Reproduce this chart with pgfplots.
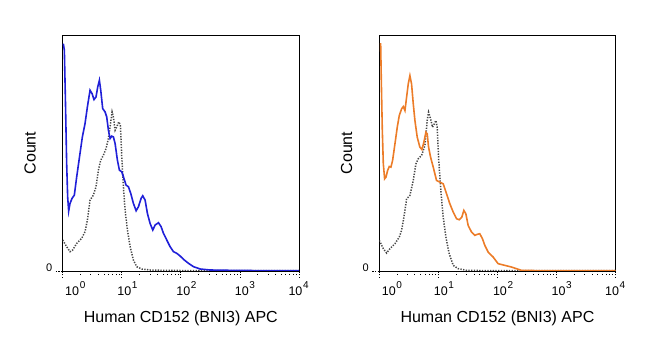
\documentclass[border=0pt]{standalone}
\usepackage{fontspec}
\setmainfont{Liberation Sans}
\usepackage{pgfplots}
\pgfplotsset{compat=1.18}
\definecolor{myblue}{RGB}{32,32,216}
\definecolor{myorange}{RGB}{236,124,40}
\definecolor{mygray}{RGB}{70,70,70}
\newcommand{\dec}[2]{\hbox to 0pt{\hss\kern#2 10\rlap{\kern0.6bp\raisebox{6.8bp}{\fontsize{10bp}{10bp}\selectfont #1}}\kern-#2\hss}}
\pgfplotsset{flow/.style={
  scale only axis, width=236.3bp, height=236bp,
  xmin=0, xmax=4, ymin=0, ymax=709,
  axis line style={line width=0.8bp, black},
  xtick={0,1,2,3,4},
  xticklabels={\dec{0}{9.5bp},\dec{1}{2.5bp},\dec{2}{2.5bp},\dec{3}{2bp},\dec{4}{-3.5bp}},
  minor xtick={0.301,0.477,0.602,0.699,0.778,0.845,0.903,0.954,
               1.301,1.477,1.602,1.699,1.778,1.845,1.903,1.954,
               2.301,2.477,2.602,2.699,2.778,2.845,2.903,2.954,
               3.301,3.477,3.602,3.699,3.778,3.845,3.903,3.954},
  ytick={0}, yticklabels={0},
  tick align=outside, xtick pos=lower, ytick pos=left,
  major tick length=7bp, minor tick length=4bp,
  tick style={line width=0.8bp, black},
  xticklabel style={font=\fontsize{12.5bp}{13bp}\selectfont},
  yticklabel style={font=\fontsize{11bp}{12bp}\selectfont, yshift=3bp},
  xlabel={Human CD152 (BNI3) APC}, ylabel={Count},
  label style={font=\fontsize{16bp}{19bp}\selectfont},
  xlabel style={at={(axis description cs:0.5,-0.220)}, anchor=base},
  ylabel style={at={(axis description cs:-0.115,0.5)}, anchor=base},
  anchor=south west,
  gray/.style={mygray, line width=1.5bp, dash pattern=on 1.3bp off 1.4bp},
}}
\begin{document}
\begin{tikzpicture}
\useasboundingbox (0,0) rectangle (650bp,352bp);
\begin{axis}[flow, at={(62.7bp,81bp)}]
\addplot[gray] coordinates {
(0,93) (0.067,73) (0.124,58) (0.169,63) (0.237,83) (0.321,98) (0.378,118) (0.418,153)
(0.463,213) (0.519,228) (0.564,253) (0.604,303) (0.644,333) (0.689,348) (0.734,368)
(0.774,398) (0.802,433) (0.836,478) (0.858,463) (0.887,423) (0.915,433) (0.949,448)
(0.977,438) (1.0,343) (1.028,253) (1.056,183) (1.096,123) (1.141,73) (1.197,33)
(1.253,13) (1.338,6) (1.479,3) (1.706,2) (2.271,1) (4,1)};
\addplot[myblue, line width=1.6bp] coordinates {
(0.011,683) (0.028,663) (0.045,523) (0.067,323) (0.084,223) (0.101,180) (0.124,203)
(0.158,218) (0.197,228) (0.237,283) (0.293,353) (0.333,403) (0.378,443) (0.418,493)
(0.463,543) (0.497,533) (0.530,515) (0.564,523) (0.593,553) (0.621,573) (0.644,543)
(0.677,488) (0.717,478) (0.745,463) (0.774,423) (0.802,398) (0.830,405) (0.858,403)
(0.887,383) (0.926,333) (0.960,303) (1.000,298) (1.028,283) (1.073,258) (1.113,253)
(1.152,233) (1.197,203) (1.243,181) (1.282,193) (1.327,218) (1.355,226) (1.395,213)
(1.434,173) (1.479,143) (1.525,123) (1.564,138) (1.621,145) (1.666,133) (1.706,113)
(1.762,93) (1.818,73) (1.875,58) (1.932,53) (1.988,45) (2.045,35) (2.130,23)
(2.214,13) (2.327,6) (2.497,3) (2.836,2) (3.401,1) (4.0,1)};
\end{axis}
\begin{axis}[flow, at={(379.3bp,81bp)}]
\addplot[gray] coordinates {
(0,92) (0.068,67) (0.124,54) (0.180,67) (0.265,82) (0.338,102) (0.377,122) (0.417,162)
(0.462,217) (0.518,227) (0.575,272) (0.620,322) (0.659,337) (0.715,347) (0.772,377)
(0.811,452) (0.834,477) (0.868,457) (0.901,432) (0.930,442) (0.958,452) (0.980,432)
(1.003,342) (1.037,252) (1.082,162) (1.127,102) (1.183,52) (1.251,17) (1.335,7)
(1.476,2) (1.870,1) (4,1)};
\addplot[myorange, line width=1.6bp] coordinates {
(0.011,682) (0.023,682) (0.034,572) (0.051,422) (0.068,322) (0.090,277) (0.113,282)
(0.141,302) (0.169,314) (0.197,312) (0.225,332) (0.265,382) (0.304,432) (0.338,467)
(0.377,487) (0.406,494) (0.434,482) (0.462,522) (0.490,562) (0.518,587) (0.546,562)
(0.575,502) (0.603,452) (0.642,402) (0.687,372) (0.721,365) (0.755,387) (0.789,417)
(0.811,412) (0.834,372) (0.868,342) (0.913,312) (0.969,272) (1.025,267) (1.082,262)
(1.138,232) (1.194,202) (1.251,177) (1.307,157) (1.352,154) (1.397,162) (1.431,182)
(1.465,172) (1.504,137) (1.561,117) (1.617,107) (1.656,110) (1.701,112) (1.746,97)
(1.786,77) (1.842,57) (1.927,42) (2.011,22) (2.124,17) (2.237,12) (2.321,7)
(2.406,2) (2.715,1) (4,1)};
\end{axis}
\end{tikzpicture}
\end{document}
